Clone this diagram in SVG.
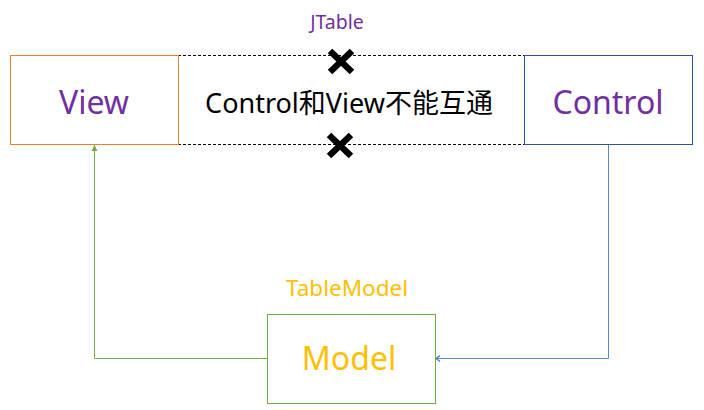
<svg xmlns="http://www.w3.org/2000/svg" width="704" height="410" viewBox="0 0 704 410">
<style>
text{font-family:"Noto Sans","Noto Sans CJK SC",sans-serif;text-anchor:middle;dominant-baseline:central}
.big{font-size:32px}
.purple{fill:#7030A0}
.gold{fill:#FFC000}
.x{stroke:#000;stroke-width:6.5;stroke-linecap:butt}
</style>
<defs>
<marker id="ag" markerWidth="8" markerHeight="8" refX="7" refY="4" orient="auto" markerUnits="userSpaceOnUse" viewBox="0 0 8 8">
<path d="M1,1 L7,4 L1,7 Z" fill="#70AD47"/>
</marker>
<marker id="ab" markerWidth="8" markerHeight="8" refX="7" refY="4" orient="auto" markerUnits="userSpaceOnUse" viewBox="0 0 8 8">
<path d="M3,1 L7,4 L3,7" fill="none" stroke="#4472C4" stroke-width="1.2"/>
</marker>
</defs>
<g id="connectors">
<line x1="178" y1="55.5" x2="524" y2="55.5" stroke="#000" stroke-width="1" stroke-dasharray="3,2"/>
<line x1="178" y1="144.5" x2="524" y2="144.5" stroke="#000" stroke-width="1" stroke-dasharray="3,2"/>
<path d="M267,358.5 H94.5 V145" fill="none" stroke="#70AD47" stroke-width="1" marker-end="url(#ag)"/>
<path d="M608.5,145 V358.5 H436" fill="none" stroke="#4472C4" stroke-width="1" stroke-opacity="0.85" marker-end="url(#ab)"/>
</g>
<g id="view">
<rect x="10.5" y="55.5" width="168" height="89" fill="#fff" stroke="#ED7D31" stroke-width="1"/>
<text x="94" y="101" class="big purple">View</text>
</g>
<g id="control">
<rect x="524.5" y="55.5" width="168" height="89" fill="#fff" stroke="#2F5597" stroke-width="1"/>
<text x="608" y="101" class="big purple">Control</text>
</g>
<g id="model">
<rect x="267.5" y="314.5" width="168" height="89" fill="#fff" stroke="#70AD47" stroke-width="1"/>
<text x="349" y="357" class="big gold">Model</text>
</g>
<g id="jtable-label">
<text x="337" y="21" font-size="19.5" class="purple">JTable</text>
</g>
<g id="middle-label">
<text x="349" y="102" font-size="27" fill="#000">Control和View不能互通</text>
</g>
<g id="tablemodel-label">
<text x="347" y="287" font-size="22.5" class="gold">TableModel</text>
</g>
<g id="x-top">
<path class="x" d="M330,51 L352,72 M352,51 L330,72"/>
</g>
<g id="x-bottom">
<path class="x" d="M329,135 L351,156 M351,135 L329,156"/>
</g>
</svg>
